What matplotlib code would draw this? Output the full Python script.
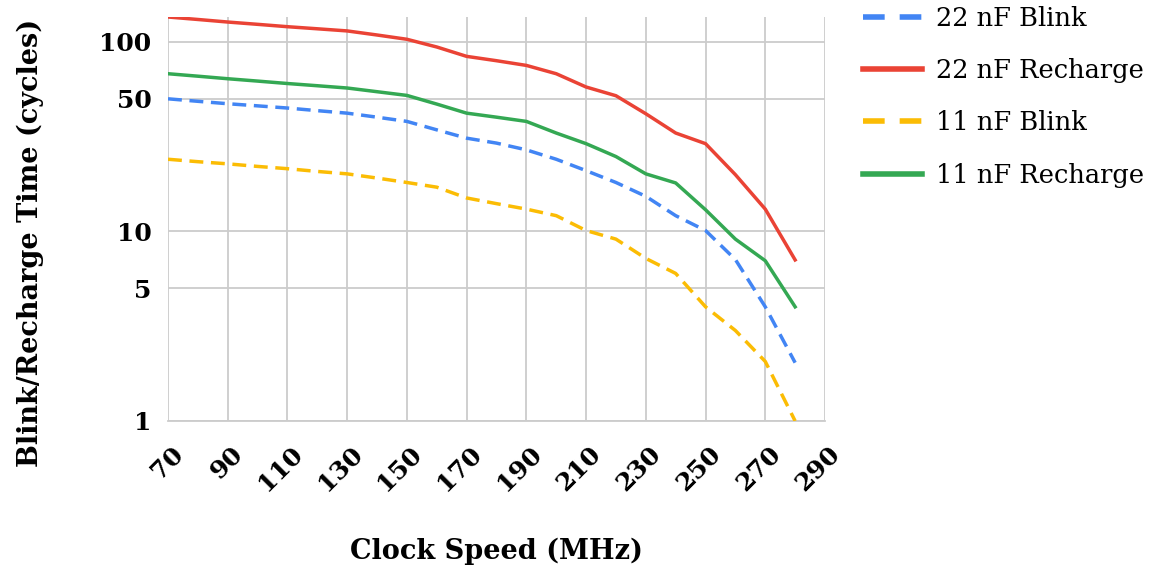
import matplotlib.pyplot as plt
from matplotlib.lines import Line2D
from matplotlib.ticker import FixedLocator, NullLocator
from matplotlib.transforms import ScaledTranslation

plt.rcParams["font.family"] = ["DejaVu Serif"]

clock_mhz = [70, 80, 90, 100, 110, 120, 130, 140, 150, 160, 170, 180, 190, 200,
             210, 220, 230, 240, 250, 260, 270, 280]

blink_22nf = [50, 48.5, 47.1, 45.9, 44.7, 43.3, 42, 40, 38, 34.3, 31, 29.2, 26.9, 24,
              20.9, 18.1, 15.3, 12.1, 10.1, 7.1, 4.0, 2.03]
recharge_22nf = [135, 131, 127, 123.5, 120, 117, 114, 108.5, 103, 93.8, 83.7, 79.4, 75, 67.8,
                 57.7, 51.9, 41.7, 33, 29, 19.9, 13.1, 7.07]
blink_11nf = [24, 23.3, 22.7, 22, 21.4, 20.7, 20.1, 19.1, 18.1, 17.1, 15, 14, 13.1, 12.1,
              10.1, 9.1, 7.2, 6.0, 4.0, 3.0, 2.06, 1.0]
recharge_11nf = [67.8, 65.8, 63.8, 62, 60.2, 58.6, 57, 54.5, 52.1, 46.9, 42, 40, 38, 33,
                 29, 24.8, 20.1, 18, 13, 9.1, 7.0, 4.0]

series_labels = ["22 nF Blink", "22 nF Recharge", "11 nF Blink", "11 nF Recharge"]
x_ticks = list(range(70, 291, 20))
y_ticks = [1, 5, 10, 50, 100]

BLUE = "#4285F4"
RED = "#EA4335"
YELLOW = "#FBBC04"
GREEN = "#34A853"
GRID = "#cccccc"

fig = plt.figure(figsize=(11.52, 5.77), dpi=100, facecolor="white")
ax = fig.add_axes([168 / 1152, 1 - 421 / 577, 657 / 1152, 404 / 577])

dash = (4.0, 2.2)
lw = 2.5
ax.plot(clock_mhz, blink_22nf, color=BLUE, lw=lw, dashes=dash, zorder=3)
ax.plot(clock_mhz, recharge_22nf, color=RED, lw=lw, zorder=3)
ax.plot(clock_mhz, blink_11nf, color=YELLOW, lw=lw, dashes=dash, zorder=3)
ax.plot(clock_mhz, recharge_11nf, color=GREEN, lw=lw, zorder=3)

ax.set_yscale("log")
ax.set_xlim(70, 290)
ax.set_ylim(1, 135)
ax.xaxis.set_major_locator(FixedLocator(x_ticks))
ax.yaxis.set_major_locator(FixedLocator(y_ticks))
ax.yaxis.set_minor_locator(NullLocator())
ax.set_yticklabels([str(t) for t in y_ticks])
ax.set_xticklabels([str(t) for t in x_ticks], rotation=45, ha="right",
                   rotation_mode="anchor")
ax.grid(True, color=GRID, lw=1.3, zorder=0)
ax.tick_params(length=0, labelsize=18)
ax.tick_params(axis="y", pad=12)
ax.tick_params(axis="x", pad=15)
shift = ScaledTranslation(3 / 100, 0, fig.dpi_scale_trans)
for lab in ax.get_xticklabels():
    lab.set_fontweight("bold")
    lab.set_transform(lab.get_transform() + shift)
for lab in ax.get_yticklabels():
    lab.set_fontweight("bold")
for side in ["top", "left", "right"]:
    ax.spines[side].set_visible(False)
ax.spines["bottom"].set_color(GRID)
ax.spines["bottom"].set_linewidth(1.3)

ax.set_xlabel("Clock Speed (MHz)", fontsize=19.5, fontweight="bold")
ax.set_ylabel("Blink/Recharge Time (cycles)", fontsize=19.5, fontweight="bold")
ax.xaxis.set_label_coords(0.5, (421 - 538) / 404)
ax.yaxis.set_label_coords((44 - 168) / 657, (421 - 243) / 404)

leg_dash = (3.9, 2.7)
handles = [
    Line2D([], [], color=BLUE, lw=4, dashes=leg_dash),
    Line2D([], [], color=RED, lw=4),
    Line2D([], [], color=YELLOW, lw=4, dashes=leg_dash),
    Line2D([], [], color=GREEN, lw=4),
]
fig.legend(handles, series_labels, loc="upper left",
           bbox_to_anchor=(863 / 1152, 1 - 6 / 577), frameon=False,
           fontsize=18.5, handlelength=2.3, handletextpad=0.55, labelspacing=1.06,
           borderpad=0, borderaxespad=0)

fig.savefig("out.png", dpi=100, facecolor="white")
